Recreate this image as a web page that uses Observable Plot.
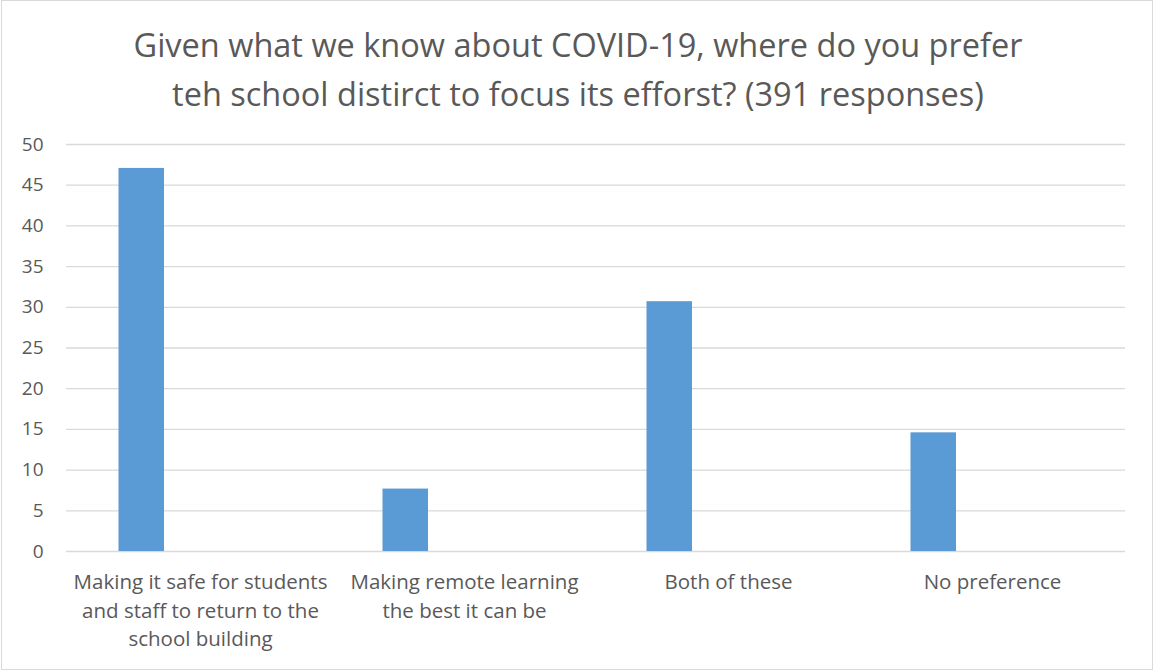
<!DOCTYPE html>
<html><head><meta charset="utf-8">
<script src="https://cdn.jsdelivr.net/npm/d3@7"></script>
<script src="https://cdn.jsdelivr.net/npm/@observablehq/plot@0.6"></script>
<style>
body{margin:0;background:#fff;font-family:"Open Sans",sans-serif;}
#wrap{position:relative;width:1153px;height:671px;overflow:hidden;background:#fff;}
#border{position:absolute;left:1px;top:0;width:1150px;height:668px;border:1px solid #d9d9d9;pointer-events:none;}
#title{position:absolute;left:0;top:20px;width:1156px;text-align:center;font-size:32.5px;line-height:49px;color:#595959;font-family:"Open Sans",sans-serif;}
#chart{position:absolute;left:0;top:0;}
</style></head>
<body>
<div id="wrap">
  <div id="chart"></div>
  <div id="title">Given what we know about COVID-19, where do you prefer<br>teh school distirct to focus its efforst? (391 responses)</div>
  <div id="border"></div>
</div>
<script>
const categories = ["Making it safe for students and staff to return to the school building", "Making remote learning the best it can be", "Both of these", "No preference"];
const tickLabels = ["Making it safe for students\nand staff to return to the\nschool building", "Making remote learning\nthe best it can be", "Both of these", "No preference"];
const values = [47.06, 7.67, 30.69, 14.58];
const yTicks = [0, 5, 10, 15, 20, 25, 30, 35, 40, 45, 50];

const data = categories.map((c, i) => ({category: c, value: values[i]}));

const chart = Plot.plot({
  width: 1153,
  height: 671,
  marginTop: 144,
  marginBottom: 120,
  marginLeft: 66,
  marginRight: 28,
  style: {color: "#595959", fontSize: "19px", fontFamily: "'Open Sans', sans-serif", background: "transparent"},
  x: {domain: categories, padding: 0, axis: null},
  y: {domain: [0, 50], axis: null},
  marks: [
    Plot.gridY(yTicks, {stroke: "#d9d9d9", strokeOpacity: 1, strokeWidth: 1.3}),
    Plot.barY(data, {x: "category", y: "value", fill: "#5b9bd5", insetLeft: 50.5, insetRight: 168}),
    Plot.axisY({ticks: yTicks, tickSize: 0, tickPadding: 23, label: null}),
    Plot.axisX({tickSize: 0, tickPadding: 17, fontSize: 20.5, lineHeight: 1.4, label: null, tickFormat: d => tickLabels[categories.indexOf(d)]})
  ]
});
document.getElementById("chart").appendChild(chart);
</script>
</body></html>
